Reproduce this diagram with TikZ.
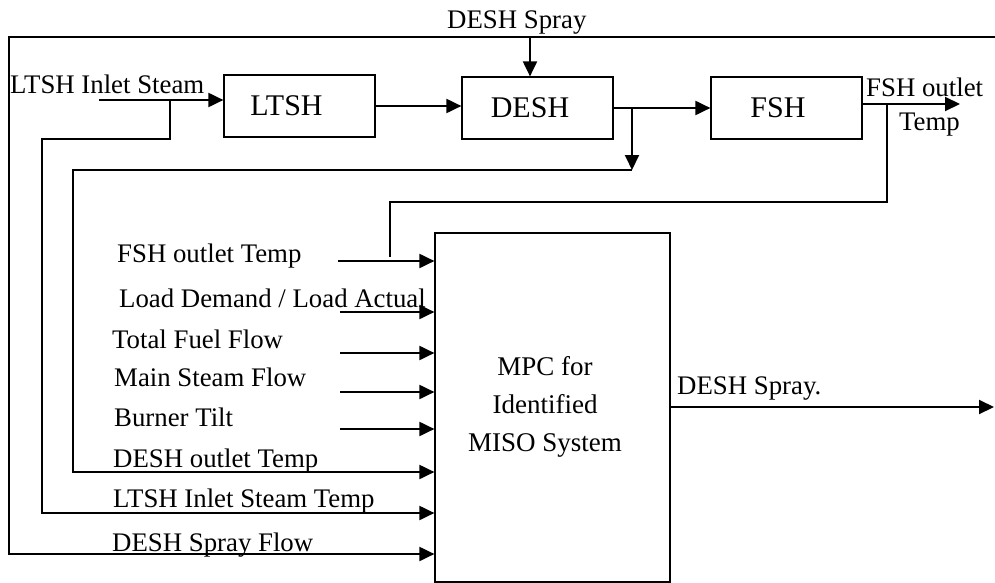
\documentclass[tikz,border=0pt]{standalone}
\usepackage{fontspec}
\setmainfont{Liberation Serif}
\usetikzlibrary{arrows.meta}
\begin{document}
\begin{tikzpicture}[x=1pt,y=-1pt,
  blk/.style={draw,line width=1.2pt,inner sep=0,font=\fontsize{30}{34}\selectfont},
  lbl/.style={inner sep=0,anchor=base west,font=\fontsize{26.8}{30}\selectfont},
  wire/.style={line width=1.7pt},
  arr/.style={line width=2pt,-{Triangle[length=15pt,width=14pt]}},
]
\useasboundingbox (0,0) rectangle (995,583);
% blocks
\node[blk,minimum width=151pt,minimum height=62pt] (ltsh) at (299.5,106) {\hspace*{-26pt}LTSH};
\node[blk,minimum width=151pt,minimum height=62pt] (desh) at (537.5,108) {\hspace*{-15pt}DESH};
\node[blk,minimum width=151pt,minimum height=62pt] (fsh) at (786.5,108) {\hspace*{-17pt}FSH};
\node[blk,minimum width=235pt,minimum height=349pt] (mpc) at (552.5,407.5) {};
\node[inner sep=0,align=center,font=\fontsize{27}{38}\selectfont] (mpct) at (545,407) {MPC for\\Identified\\MISO System};
% coordinates
\coordinate (tl) at (9,37);
\coordinate (tr) at (995,37);
\coordinate (sf) at (9,554);
\coordinate (ds) at (530,37);
\coordinate (lin) at (99,100);
\coordinate (lb) at (170,100);
\coordinate (lt) at (42,513);
\coordinate (db) at (632,108);
\coordinate (dc) at (632,170);
\coordinate (dt) at (73,472);
\coordinate (fo) at (960,104);
\coordinate (fb) at (887,104);
\coordinate (ft) at (390,257);
\coordinate (i1) at (338,261);
\coordinate (i2) at (340,312);
\coordinate (i3) at (340,353);
\coordinate (i4) at (340,392);
\coordinate (i5) at (340,429);
\coordinate (out) at (994,407);
% connectors
\draw[arr] (tr) -- (tl) -- (sf) -- (sf -| mpc.west);
\draw[arr] (ds) -- (ds |- desh.north);
\draw[arr] (lin) -- (lin -| ltsh.west);
\draw[arr] (lb) -- ++(0,39) -| (lt) -- (lt -| mpc.west);
\draw[arr] (ltsh.east) -- (ltsh.east -| desh.west);
\draw[arr] (desh.east) -- (fsh.west);
\draw[arr] (db) -- (dc);
\draw[arr] (dc) -| (dt) -- (dt -| mpc.west);
\draw[arr] (fsh.east |- fo) -- (fo);
\draw[wire] (fb) -- ++(0,98) -| (ft);
\foreach \i in {i1,i2,i3,i4,i5} \draw[arr] (\i) -- (\i -| mpc.west);
\draw[arr] (out -| mpc.east) -- (out);
% labels
\node[lbl] (tdsp) at (447,29) {DESH Spray};
\node[lbl] (tlin) at (10,94) {LTSH Inlet Steam};
\node[lbl] (tfo1) at (866,97) {FSH outlet};
\node[lbl] (tfo2) at (899,131) {Temp};
\node[lbl] (l1) at (117,262) {FSH outlet Temp};
\node[lbl] (l2) at (119,307) {Load Demand / Load Actual};
\node[lbl] (l3) at (112,348) {Total Fuel Flow};
\node[lbl] (l4) at (114,386) {Main Steam Flow};
\node[lbl] (l5) at (114,426) {Burner Tilt};
\node[lbl] (l6) at (113,467) {DESH outlet Temp};
\node[lbl] (l7) at (113,507) {LTSH Inlet Steam Temp};
\node[lbl] (l8) at (112,551) {DESH Spray Flow};
\node[lbl] (lout) at (677,394) {DESH Spray.};
\end{tikzpicture}
\end{document}
